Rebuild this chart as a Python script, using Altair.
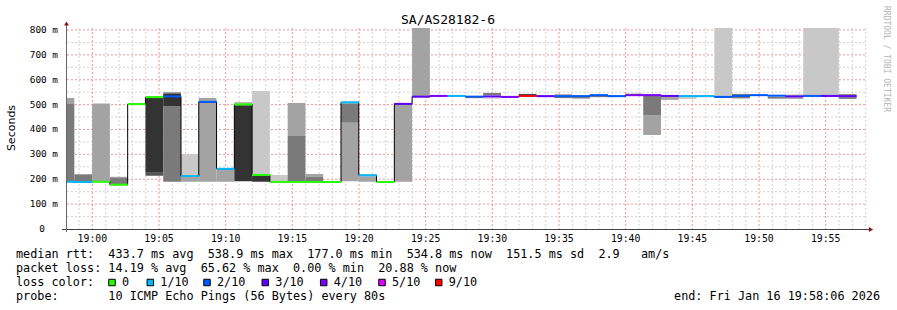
import altair as alt
import pandas as pd

# ------------------------------------------------------------------ data
interval_step_s = 80
first_start_s = -161          # start of first 80 s interval, seconds after 19:00:00
domain_s = [-114, 3486]       # 18:58:06 .. 19:58:06

median_ms = [190, 189, 190, 178, 502, 530, 533, 213, 511, 242,
             501, 217, 189, 189, 189, 189, 509, 216, 189, 503,
             532, 535, 535, 532, 533, 531, 535, 534, 534, 534,
             538, 534, 538, 538, 535, 534, 534, 531, 535, 538,
             536, 533, 535, 535, 534]
loss_idx = [1, 1, 0, 0, 0, 0, 2, 1, 2, 1,
            0, 0, 0, 0, 0, 0, 1, 1, 0, 3,
            3, 4, 1, 2, 3, 4, 6, 3, 2, 2,
            2, 2, 4, 4, 3, 1, 1, 2, 2, 2,
            2, 3, 2, 3, 3]
loss_labels = ["0", "1/10", "2/10", "3/10", "4/10", "5/10", "9/10"]
loss_colors = ["#26ff00", "#00b8ff", "#0059ff", "#5e00ff", "#7e00ff", "#dd00ff", "#ff0000"]

# smoke bands: interval index, shade, low, high (ms)
band_interval = [0, 0, 1, 1, 2, 3, 3, 5, 5, 6, 6, 6, 7, 7, 8, 9, 10, 10, 11, 11,
                 12, 13, 13, 14, 14, 16, 16, 17, 19, 20, 23, 24, 24, 26, 28, 28,
                 29, 30, 32, 33, 33, 34, 34, 35, 37, 38, 40, 41, 41, 42, 43, 44, 44]
band_shade = ["A3", "7A", "A3", "7A", "A3", "A3", "7A", "33", "55", "A3", "33", "7A",
              "C8", "A3", "A3", "A3", "A3", "33", "C8", "33",
              "C8", "A3", "7A", "A3", "7A", "7A", "A3", "A3", "A3", "A3", "7A", "7A", "A3",
              "33", "A3", "7A", "7A", "7A", "7A", "7A", "A3", "7A", "A3", "C8", "C8", "7A",
              "7A", "7A", "7A", "C8", "C8", "7A", "7A"]
band_lo = [502, 190, 217, 191, 190, 205, 181, 229, 214, 545, 492, 190, 216, 190, 190, 190, 505, 192,
           221, 190, 193, 374, 192, 210, 192, 427, 192, 190, 190, 532, 526, 538, 525,
           539, 538, 526, 525, 530, 541, 458, 378, 528, 519, 523, 535, 525, 524, 537, 524,
           539, 539, 537, 523]
band_hi = [527, 502, 221, 217, 505, 210, 205, 528, 229, 551, 545, 492, 301, 210, 527, 240, 510, 497,
           555, 213, 217, 507, 374, 221, 210, 505, 427, 212, 499, 850, 530, 547, 528,
           543, 542, 531, 531, 536, 544, 535, 458, 532, 528, 530, 850, 543, 531, 540, 529,
           850, 850, 542, 530]
shade_colors = {"C8": "#c8c8c8", "A3": "#a3a3a3", "7A": "#7a7a7a", "55": "#555555", "33": "#333333"}

x_tick_s = [0, 300, 600, 900, 1200, 1500, 1800, 2100, 2400, 2700, 3000, 3300]
x_tick_labels = ["19:00", "19:05", "19:10", "19:15", "19:20", "19:25",
                 "19:30", "19:35", "19:40", "19:45", "19:50", "19:55"]
x_minor_s = [t for t in range(-60, 3486, 60) if t % 300 != 0]
y_tick_ms = [100, 200, 300, 400, 500, 600, 700, 800]
y_tick_labels = ["100 m", "200 m", "300 m", "400 m", "500 m", "600 m", "700 m", "800 m"]
y_minor_ms = [50, 150, 250, 350, 450, 550, 650, 750]

title_text = "SA/AS28182-6"
y_title = "Seconds"
side_text = "RRDTOOL / TOBI OETIKER"
legend_lines = [
    "median rtt:  433.7 ms avg  538.9 ms max  177.0 ms min  534.8 ms now  151.5 ms sd  2.9   am/s",
    "packet loss: 14.19 % avg  65.62 % max  0.00 % min  20.88 % now",
    "loss color:",
    "probe:       10 ICMP Echo Pings (56 Bytes) every 80s",
]
end_text = "end: Fri Jan 16 19:58:06 2026"

# ------------------------------------------------------------------ frames
NBSP = "\u00a0"
n = len(median_ms)
starts = [first_start_s + i * interval_step_s for i in range(n)]
ends = [s + interval_step_s for s in starts]

med_df = pd.DataFrame({"start": starts, "end": ends, "median": median_ms,
                       "loss": [loss_labels[k] for k in loss_idx]})
step_df = pd.DataFrame({"t": starts + [ends[-1]], "v": median_ms + [median_ms[-1]]})
smoke_df = pd.DataFrame({
    "start": [starts[i] for i in band_interval],
    "end": [ends[i] for i in band_interval],
    "lo": band_lo, "hi": band_hi,
    "col": [shade_colors[s] for s in band_shade],
})
xt_df = pd.DataFrame({"t": x_tick_s, "lab": x_tick_labels})
xm_df = pd.DataFrame({"t": x_minor_s})
yt_df = pd.DataFrame({"v": y_tick_ms, "lab": [s.replace(" ", NBSP) for s in y_tick_labels]})
ym_df = pd.DataFrame({"v": y_minor_ms})
dummy = pd.DataFrame({"k": [0]})

W, H = 800, 201
xs = alt.Scale(domain=domain_s, nice=False, zero=False)
ys = alt.Scale(domain=[0, 808], nice=False, zero=False)
MONO = "DejaVu Sans Mono"


def X(f):
    return alt.X(f, type="quantitative", scale=xs, axis=None)


def Y(f):
    return alt.Y(f, type="quantitative", scale=ys, axis=None)


layers = []
# grid
layers.append(alt.Chart(xm_df).mark_rule(color="#d2d2d2", strokeDash=[2, 2], strokeWidth=1)
              .encode(x=X("t"), y=alt.value(0), y2=alt.value(H)))
layers.append(alt.Chart(ym_df).mark_rule(color="#d2d2d2", strokeDash=[2, 2], strokeWidth=1)
              .encode(y=Y("v"), x=alt.value(0), x2=alt.value(W)))
layers.append(alt.Chart(xt_df).mark_rule(color="#f29494", strokeDash=[2, 2], strokeWidth=1)
              .encode(x=X("t"), y=alt.value(0), y2=alt.value(H)))
layers.append(alt.Chart(yt_df).mark_rule(color="#f29494", strokeDash=[2, 2], strokeWidth=1)
              .encode(y=Y("v"), x=alt.value(0), x2=alt.value(W)))
# smoke
layers.append(alt.Chart(smoke_df).mark_rect(clip=True).encode(
    x=X("start"), x2="end", y=Y("lo"), y2="hi", color=alt.Color("col:N", scale=None)))
# black median step line
layers.append(alt.Chart(step_df).mark_line(interpolate="step-after", color="#000000",
                                           strokeWidth=1, clip=True)
              .encode(x=X("t"), y=Y("v")))
# coloured median by loss
layers.append(alt.Chart(med_df).mark_rule(strokeWidth=2, clip=True).encode(
    x=X("start"), x2="end", y=Y("median"),
    color=alt.Color("loss:N", scale=alt.Scale(domain=loss_labels, range=loss_colors), legend=None)))
# axis lines
layers.append(alt.Chart(dummy).mark_rule(color="#444444", strokeWidth=1)
              .encode(x=alt.value(-5), x2=alt.value(802), y=alt.value(H + 0.5)))
layers.append(alt.Chart(dummy).mark_rule(color="#666666", strokeWidth=1)
              .encode(x=alt.value(-0.5), y=alt.value(-3), y2=alt.value(H + 3)))
# arrows
layers.append(alt.Chart(dummy).mark_point(shape="triangle-up", filled=True, color="#8b1010",
                                          size=24, opacity=1)
              .encode(x=alt.value(-0.5), y=alt.value(-4.5)))
layers.append(alt.Chart(dummy).mark_point(shape="triangle-right", filled=True, color="#8b1010",
                                          size=24, opacity=1)
              .encode(x=alt.value(804), y=alt.value(H + 0.5)))
# tick labels
layers.append(alt.Chart(xt_df).mark_text(font=MONO, fontSize=9.8, align="center",
                                         baseline="alphabetic", color="#000")
              .encode(x=X("t"), y=alt.value(H + 12.5), text="lab:N"))
layers.append(alt.Chart(yt_df).mark_text(font=MONO, fontSize=9.4, align="right",
                                         baseline="middle", color="#000")
              .encode(y=Y("v"), x=alt.value(-9), text="lab:N"))
layers.append(alt.Chart(dummy).mark_text(font=MONO, fontSize=9.4, align="right",
                                         baseline="middle", color="#000")
              .encode(x=alt.value(-22), y=alt.value(H), text=alt.value("0")))


def deco_text(txt, x, y, **kw):
    return alt.Chart(dummy).mark_text(**kw).encode(
        x=alt.value(x), y=alt.value(y), text=alt.value(txt.replace(" ", NBSP)))


layers.append(deco_text(title_text, 381, -4.5, font=MONO, fontSize=13, align="center",
                        baseline="alphabetic", color="#000"))
layers.append(deco_text(y_title, -55, 100, font="DejaVu Sans", fontSize=11, align="center",
                        baseline="middle", angle=270, color="#000"))
layers.append(deco_text(side_text, 819, 31, font=MONO, fontSize=8, align="center",
                        baseline="middle", angle=90, color="#b4b4b4"))

legend_base = [230.3, 244.3, 258.3, 272.0]
for line, yb in zip(legend_lines, legend_base):
    layers.append(deco_text(line, -51, yb, font=MONO, fontSize=11.8, align="left",
                            baseline="alphabetic", color="#000"))
layers.append(deco_text(end_text, 813, legend_base[3], font=MONO, fontSize=11.8, align="right",
                        baseline="alphabetic", color="#000"))

box_x = [45, 83.3, 140, 198.3, 256.7, 315, 371.7]
for bx, lab, col in zip(box_x, loss_labels, loss_colors):
    layers.append(alt.Chart(dummy).mark_square(size=42, color=col, stroke="#000000",
                                               strokeWidth=1, opacity=1)
                  .encode(x=alt.value(bx), y=alt.value(254.5)))
    layers.append(deco_text(lab, bx + 10, legend_base[2], font=MONO, fontSize=11.8,
                            align="left", baseline="alphabetic", color="#000"))

chart = alt.layer(*layers).properties(
    width=W, height=H,
    padding={"left": 67, "top": 28, "right": 30, "bottom": 81},
    autosize=alt.AutoSizeParams(type="none"),
    background="white",
).configure_view(stroke=None)

chart.save("out.html", embed_options={"renderer": "svg", "actions": False})
